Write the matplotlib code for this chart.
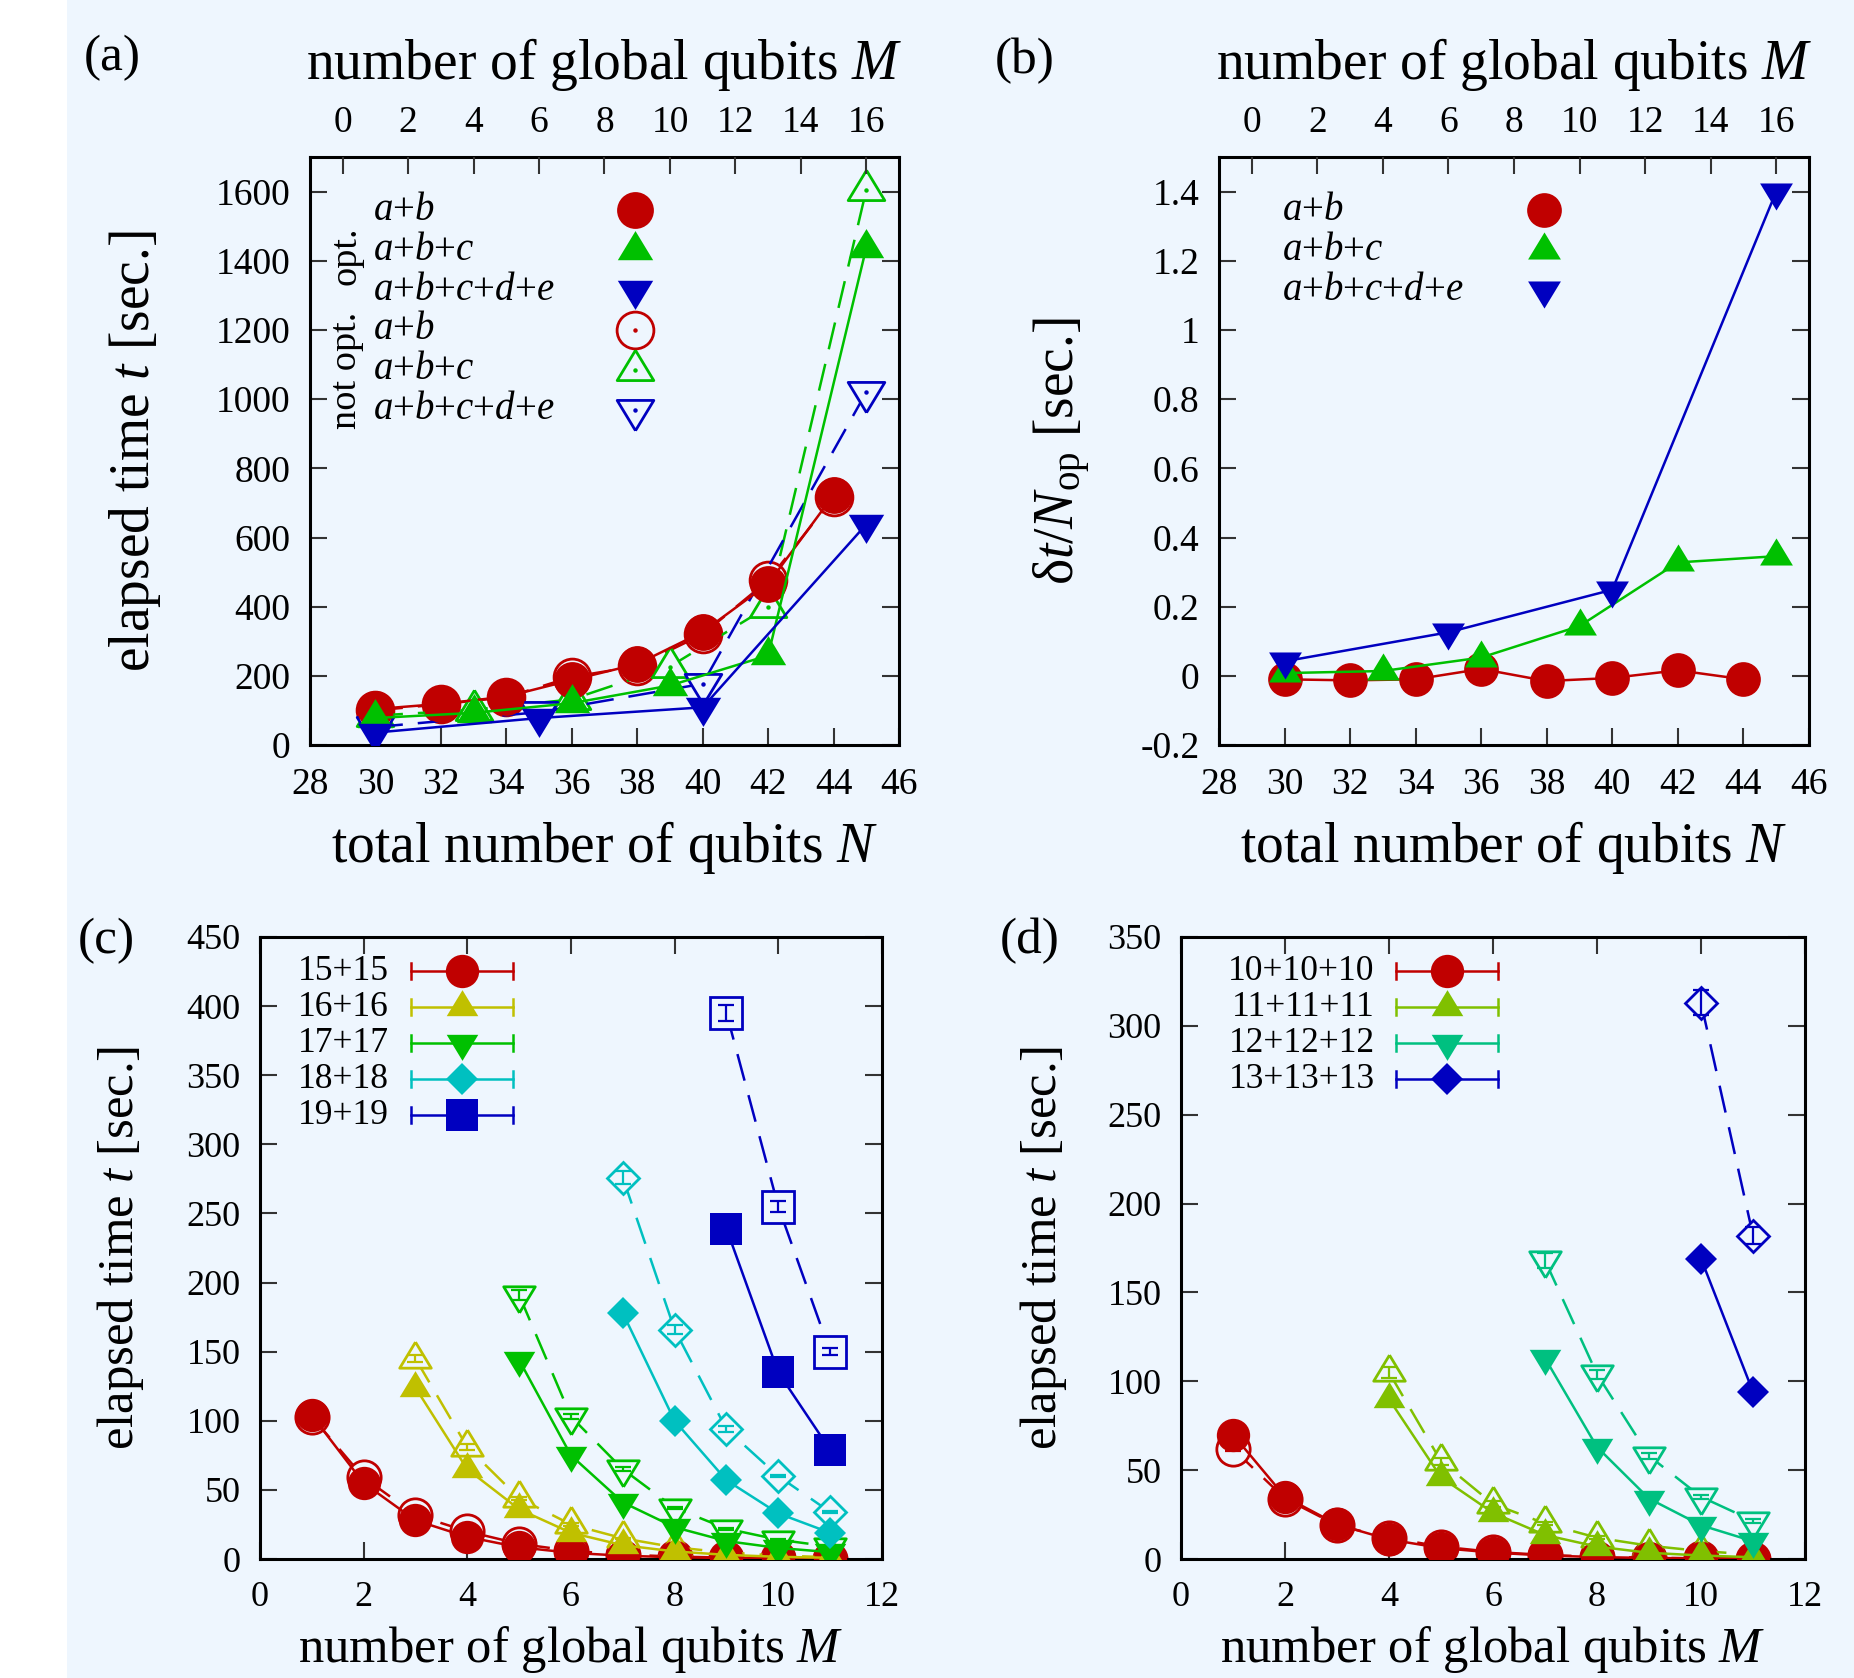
import numpy as np
import matplotlib.pyplot as plt
from matplotlib.patches import Rectangle

plt.rcParams["font.family"] = ["Liberation Serif", "DejaVu Serif"]
plt.rcParams["mathtext.fontset"] = "custom"
plt.rcParams["mathtext.rm"] = "Liberation Serif"
plt.rcParams["mathtext.it"] = "Liberation Serif:italic"
plt.rcParams["axes.unicode_minus"] = False

# ---- panel (a): elapsed time vs total number of qubits N
n_ab = [30, 32, 34, 36, 38, 40, 42, 44]
t_ab_opt = [104, 119, 140, 188, 234, 327, 466, 723]
t_ab_not = [100, 118, 138, 197, 228, 320, 476, 716]
n_abc = [30, 33, 36, 39, 42, 45]
t_abc_opt = [78, 93, 121, 172, 259, 1438]
t_abc_not = [85, 102, 132, 227, 400, 1605]
n_abcde = [30, 35, 40, 45]
t_abcde_opt = [36, 78, 109, 638]
t_abcde_not = [52, 95, 177, 1020]

# ---- panel (b): delta t / N_op
d_ab = [-0.010, -0.013, -0.010, 0.020, -0.015, -0.006, 0.016, -0.010]
d_abc = [0.008, 0.014, 0.053, 0.144, 0.328, 0.346]
d_abcde = [0.042, 0.126, 0.249, 1.40]

# ---- panel (c): two-part systems, time vs global qubits M
m15 = [1, 2, 3, 4, 5, 6, 7, 8, 9, 10, 11]
t15_opt = [104, 55, 28, 16, 8.5, 4.5, 2.4, 1.3, 0.7, 0.4, 0.2]
t15_not = [103, 59, 32, 20, 11, 6, 3.2, 1.8, 1.0, 0.5, 0.3]
e15_not = [1.5, 1.0, 0.8, 0.5, 0.4, 0.3, 0.2, 0.1, 0.1, 0.1, 0.1]
m16 = [3, 4, 5, 6, 7, 8, 9, 10, 11]
t16_opt = [124, 65, 36, 19, 10, 5.5, 3.0, 1.6, 0.9]
t16_not = [145, 81, 44, 25, 15, 8.5, 4.7, 2.5, 1.3]
e16_not = [2.5, 2.0, 1.0, 1.0, 0.5, 0.5, 0.3, 0.2, 0.1]
m17 = [5, 6, 7, 8, 9, 10, 11]
t17_opt = [144, 75, 41, 23, 13, 8, 5]
t17_not = [191, 103, 65, 37, 22, 14, 9]
e17_not = [3.5, 2.0, 1.5, 1.0, 0.8, 0.5, 0.3]
m18 = [7, 8, 9, 10, 11]
t18_opt = [178, 100, 57, 33, 19]
t18_not = [276, 166, 94, 60, 34]
e18_not = [5.0, 3.0, 2.0, 1.0, 1.0]
m19 = [9, 10, 11]
t19_opt = [239, 135, 79]
t19_not = [395, 255, 150]
e19_not = [6.0, 4.0, 2.5]

# ---- panel (d): three-part systems
m10 = [1, 2, 3, 4, 5, 6, 7, 8, 9, 10, 11]
t10_opt = [70, 35, 19.5, 11, 6.2, 3.6, 2.0, 1.1, 0.6, 0.35, 0.2]
t10_not = [62, 34, 19, 12, 7, 4, 2.3, 1.3, 0.7, 0.4, 0.25]
e10_not = [1.0, 1.0, 0.5, 0.5, 0.3, 0.2, 0.1, 0.1, 0.1, 0.1, 0.1]
m11 = [4, 5, 6, 7, 8, 9, 10, 11]
t11_opt = [90, 46, 26, 13.5, 7, 3.5, 2, 1]
t11_not = [105, 55, 31, 20, 12, 7.5, 4.5, 2.5]
e11_not = [3.0, 2.0, 1.5, 1.0, 0.8, 0.5, 0.3, 0.2]
m12 = [7, 8, 9, 10, 11]
t12_opt = [113, 63, 34, 19, 10]
t12_not = [168, 104, 58, 35, 21.5]
e12_not = [4.0, 2.5, 1.5, 1.0, 1.0]
m13 = [10, 11]
t13_opt = [169, 94]
t13_not = [313, 182]
e13_not = [7.0, 5.0]

# tick labels
n_ticks = [28, 30, 32, 34, 36, 38, 40, 42, 44, 46]
m_top_ticks = [0, 2, 4, 6, 8, 10, 12, 14, 16]
ya_ticks = [0, 200, 400, 600, 800, 1000, 1200, 1400, 1600]
yb_ticks = [-0.2, 0, 0.2, 0.4, 0.6, 0.8, 1, 1.2, 1.4]
yb_labels = ["-0.2", "0", "0.2", "0.4", "0.6", "0.8", "1", "1.2", "1.4"]
mc_ticks = [0, 2, 4, 6, 8, 10, 12]
yc_ticks = [0, 50, 100, 150, 200, 250, 300, 350, 400, 450]
yd_ticks = [0, 50, 100, 150, 200, 250, 300, 350]

BG = "#EEF6FE"
RED, GREEN, BLUE = "#C00000", "#00C000", "#0000C0"
YELLOW, CYAN = "#C0C000", "#00C0C0"
LIME, TEAL = "#80C000", "#00C080"
LW = 1.8
DASH = (11, 6)
MEW = 2.0

TRI_UP = [(0, 1.1), (-1, -0.55), (1, -0.55), (0, 1.1)]
TRI_DN = [(0, -1.1), (-1, 0.55), (1, 0.55), (0, -1.1)]


def style_axes(ax, size, mirror_x=True):
    for sp in ax.spines.values():
        sp.set_linewidth(2.2)
    ax.set_facecolor("none")
    ax.tick_params(direction="in", length=12, width=1.5, color="#333333",
                   labelsize=size, top=mirror_x, right=True)
    ax.tick_params(axis="x", pad=16)
    ax.tick_params(axis="y", pad=14)


def open_series(ax, x, y, color, marker, ms, yerr=None, dot=False):
    ax.plot(x, y, color=color, lw=LW, dashes=DASH, marker=marker, ms=ms,
            mfc=BG, mec=color, mew=MEW, zorder=2)
    if yerr is not None:
        ax.errorbar(x, y, yerr=yerr, fmt="none", ecolor=color, elinewidth=1.6,
                    capsize=5.5, capthick=1.6, zorder=2)
    if dot:
        ax.plot(x, y, ls="none", marker="o", ms=2.2, mfc=color, mec=color, zorder=2)


def filled_series(ax, x, y, color, marker, ms):
    ax.plot(x, y, color=color, lw=LW, marker=marker, ms=ms, mfc=color,
            mec=color, mew=0, zorder=3)


def key_marker(ax, x, y, color, marker, ms, filled=True, dot=False):
    if filled:
        ax.plot([x], [y], ls="none", marker=marker, ms=ms, mfc=color, mec=color,
                mew=0, transform=ax.transAxes, clip_on=False)
    else:
        ax.plot([x], [y], ls="none", marker=marker, ms=ms, mfc=BG, mec=color,
                mew=MEW, transform=ax.transAxes, clip_on=False)
        if dot:
            ax.plot([x], [y], ls="none", marker="o", ms=2.2, mfc=color, mec=color,
                    transform=ax.transAxes, clip_on=False)


def errorline_key(ax, xr, x0, x1, y, label, color, marker, ms, size):
    ax.text(xr, y, label, transform=ax.transAxes, ha="right", va="center", fontsize=size)
    ax.plot([x0, x1], [y, y], color=color, lw=LW, transform=ax.transAxes, clip_on=False)
    for xe in (x0, x1):
        ax.plot([xe, xe], [y - 0.013, y + 0.013], color=color, lw=LW,
                transform=ax.transAxes, clip_on=False)
    key_marker(ax, (x0 + x1) / 2, y, color, marker, ms)


def top_m_axis(ax):
    ax2 = ax.twiny()
    ax2.set_xlim(-1, 17)
    ax2.set_xticks(m_top_ticks)
    for sp in ax2.spines.values():
        sp.set_visible(False)
    ax2.tick_params(direction="in", length=12, width=1.5, color="#333333",
                    labelsize=27, pad=12)
    ax2.set_xlabel("number of global qubits $M$", fontsize=40)
    ax2.xaxis.set_label_coords(0.5, 1.158)
    ax2.xaxis.label.set_va("center")
    return ax2


fig = plt.figure(figsize=(18.54, 16.78), dpi=100)
fig.patch.set_facecolor("white")
fig.patches.append(Rectangle((67 / 1854, 0), 1 - 67 / 1854, 1, transform=fig.transFigure,
                             facecolor=BG, edgecolor="none", zorder=-10))

ax_a = fig.add_axes([0.1672, 0.5560, 0.3177, 0.3504])
ax_b = fig.add_axes([0.6575, 0.5560, 0.3182, 0.3504])
ax_c = fig.add_axes([0.1402, 0.0709, 0.3355, 0.3707])
ax_d = fig.add_axes([0.6370, 0.0709, 0.3366, 0.3707])

# ---------------- (a)
ax = ax_a
style_axes(ax, 27, mirror_x=False)
open_series(ax, n_ab, t_ab_not, RED, "o", 26.5, dot=True)
open_series(ax, n_abc, t_abc_not, GREEN, TRI_UP, 29, dot=True)
open_series(ax, n_abcde, t_abcde_not, BLUE, TRI_DN, 29, dot=True)
filled_series(ax, n_ab, t_ab_opt, RED, "o", 26.5)
filled_series(ax, n_abc, t_abc_opt, GREEN, TRI_UP, 28)
filled_series(ax, n_abcde, t_abcde_opt, BLUE, TRI_DN, 28)
ax.set_xlim(28, 46)
ax.set_ylim(0, 1700)
ax.set_xticks(n_ticks)
ax.set_yticks(ya_ticks)
ax.set_xlabel("total number of qubits $N$", fontsize=40)
ax.xaxis.set_label_coords(0.5, -0.175)
ax.xaxis.label.set_va("center")
ax.set_ylabel("elapsed time $t$ [sec.]", fontsize=40)
ax.yaxis.set_label_coords(-0.297, 0.5)
ax.yaxis.label.set_va("center")
top_m_axis(ax)

key_a = [("$a$+$b$", RED, "o", 26.5, True),
         ("$a$+$b$+$c$", GREEN, TRI_UP, 28, True),
         ("$a$+$b$+$c$+$d$+$e$", BLUE, TRI_DN, 28, True),
         ("$a$+$b$", RED, "o", 26.5, False),
         ("$a$+$b$+$c$", GREEN, TRI_UP, 29, False),
         ("$a$+$b$+$c$+$d$+$e$", BLUE, TRI_DN, 29, False)]
for i, (lab, col, mk, ms, filled) in enumerate(key_a):
    yk = 0.9099 - 0.068 * i
    ax.text(0.1065, yk, lab, transform=ax.transAxes, ha="left", va="center", fontsize=28)
    key_marker(ax, 0.552, yk, col, mk, ms, filled=filled, dot=not filled)
ax.text(0.0623, 0.833, "opt.", transform=ax.transAxes, rotation=90,
        ha="center", va="center", fontsize=27.5)
ax.text(0.0623, 0.638, "not opt.", transform=ax.transAxes, rotation=90,
        ha="center", va="center", fontsize=27.5)

# ---------------- (b)
ax = ax_b
style_axes(ax, 27, mirror_x=False)
filled_series(ax, n_ab, d_ab, RED, "o", 25)
filled_series(ax, n_abc, d_abc, GREEN, TRI_UP, 26)
filled_series(ax, n_abcde, d_abcde, BLUE, TRI_DN, 26)
ax.set_xlim(28, 46)
ax.set_ylim(-0.2, 1.5)
ax.set_xticks(n_ticks)
ax.set_yticks(yb_ticks)
ax.set_yticklabels(yb_labels)
ax.set_xlabel("total number of qubits $N$", fontsize=40)
ax.xaxis.set_label_coords(0.5, -0.175)
ax.xaxis.label.set_va("center")
ax.set_ylabel("δ$t/N_{\\mathrm{op}}$ [sec.]", fontsize=40)
ax.yaxis.set_label_coords(-0.266, 0.5)
ax.yaxis.label.set_va("center")
top_m_axis(ax)

key_b = [("$a$+$b$", RED, "o", 25), ("$a$+$b$+$c$", GREEN, TRI_UP, 26),
         ("$a$+$b$+$c$+$d$+$e$", BLUE, TRI_DN, 26)]
for i, (lab, col, mk, ms) in enumerate(key_b):
    yk = 0.9099 - 0.068 * i
    ax.text(0.1064, yk, lab, transform=ax.transAxes, ha="left", va="center", fontsize=28)
    key_marker(ax, 0.5505, yk, col, mk, ms)

# ---------------- (c)
ax = ax_c
style_axes(ax, 26)
open_series(ax, m15, t15_not, RED, "o", 24, e15_not)
open_series(ax, m16, t16_not, YELLOW, TRI_UP, 25, e16_not)
open_series(ax, m17, t17_not, GREEN, TRI_DN, 25, e17_not)
open_series(ax, m18, t18_not, CYAN, "D", 16, e18_not)
open_series(ax, m19, t19_not, BLUE, "s", 22.5, e19_not)
filled_series(ax, m15, t15_opt, RED, "o", 24)
filled_series(ax, m16, t16_opt, YELLOW, TRI_UP, 25)
filled_series(ax, m17, t17_opt, GREEN, TRI_DN, 25)
filled_series(ax, m18, t18_opt, CYAN, "D", 16)
filled_series(ax, m19, t19_opt, BLUE, "s", 23.5)
ax.set_xlim(0, 12)
ax.set_ylim(0, 450)
ax.set_xticks(mc_ticks)
ax.set_yticks(yc_ticks)
ax.set_xlabel("number of global qubits $M$", fontsize=36.5)
ax.xaxis.set_label_coords(0.5, -0.145)
ax.xaxis.label.set_va("center")
ax.set_ylabel("elapsed time $t$ [sec.]", fontsize=36.5)
ax.yaxis.set_label_coords(-0.2235, 0.5)
ax.yaxis.label.set_va("center")

key_c = [("15+15", RED, "o", 24), ("16+16", YELLOW, TRI_UP, 25),
         ("17+17", GREEN, TRI_DN, 25), ("18+18", CYAN, "D", 16),
         ("19+19", BLUE, "s", 23.5)]
for i, (lab, col, mk, ms) in enumerate(key_c):
    errorline_key(ax, 0.2066, 0.2428, 0.4063, 0.9453 - 0.0579 * i, lab, col, mk, ms, 25.5)

# ---------------- (d)
ax = ax_d
style_axes(ax, 26)
open_series(ax, m10, t10_not, RED, "o", 24, e10_not)
open_series(ax, m11, t11_not, LIME, TRI_UP, 25, e11_not)
open_series(ax, m12, t12_not, TEAL, TRI_DN, 25, e12_not)
open_series(ax, m13, t13_not, BLUE, "D", 16, e13_not)
filled_series(ax, m10, t10_opt, RED, "o", 24)
filled_series(ax, m11, t11_opt, LIME, TRI_UP, 25)
filled_series(ax, m12, t12_opt, TEAL, TRI_DN, 25)
filled_series(ax, m13, t13_opt, BLUE, "D", 16)
ax.set_xlim(0, 12)
ax.set_ylim(0, 350)
ax.set_xticks(mc_ticks)
ax.set_yticks(yd_ticks)
ax.set_xlabel("number of global qubits $M$", fontsize=36.5)
ax.xaxis.set_label_coords(0.5, -0.145)
ax.xaxis.label.set_va("center")
ax.set_ylabel("elapsed time $t$ [sec.]", fontsize=36.5)
ax.yaxis.set_label_coords(-0.2196, 0.5)
ax.yaxis.label.set_va("center")

key_d = [("10+10+10", RED, "o", 24), ("11+11+11", LIME, TRI_UP, 25),
         ("12+12+12", TEAL, TRI_DN, 25), ("13+13+13", BLUE, "D", 16)]
for i, (lab, col, mk, ms) in enumerate(key_d):
    errorline_key(ax, 0.3104, 0.3446, 0.5077, 0.9453 - 0.0579 * i, lab, col, mk, ms, 25.5)

# panel letters
for (px, py, tag) in [(0.0604, 0.9654, "(a)"), (0.5529, 0.9636, "(b)"),
                      (0.0572, 0.4392, "(c)"), (0.5556, 0.4392, "(d)")]:
    fig.text(px, py, tag, ha="center", va="center", fontsize=37)

fig.savefig("out.png", dpi=100, facecolor=fig.get_facecolor())
